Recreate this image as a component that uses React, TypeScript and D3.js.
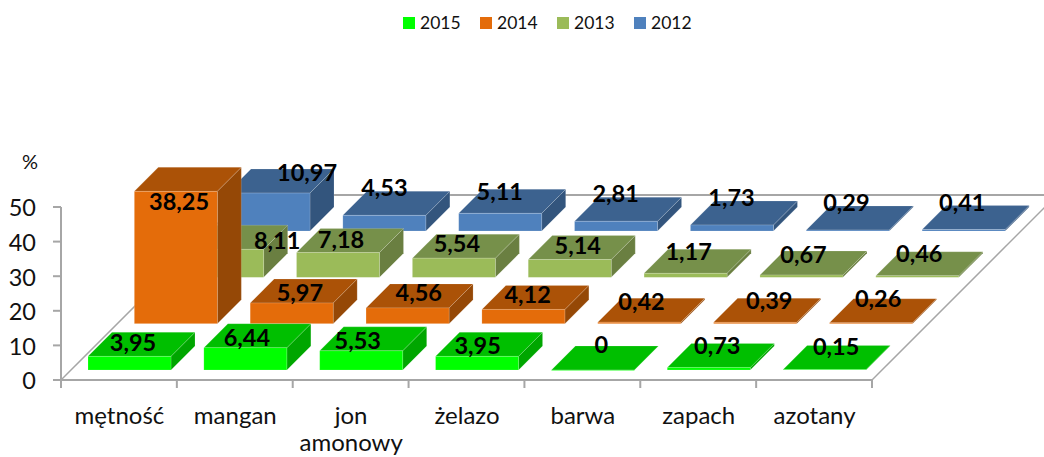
import React from 'react';
import * as d3 from 'd3';

const categories = ['mętność', 'mangan', 'jon amonowy', 'żelazo', 'barwa', 'zapach', 'azotany'];
const series = ['2015', '2014', '2013', '2012'];
const v2015 = [3.95, 6.44, 5.53, 3.95, 0, 0.73, 0.15];
const v2014 = [38.25, 5.97, 4.56, 4.12, 0.42, 0.39, 0.26];
const v2013 = [8.11, 7.18, 5.54, 5.14, 1.17, 0.67, 0.46];
const v2012 = [10.97, 4.53, 5.11, 2.81, 1.73, 0.29, 0.41];
const yTicks = [0, 10, 20, 30, 40, 50];

const allValues = [v2015, v2014, v2013, v2012];
const labelsText = (v: number) => String(v).replace('.', ',');

const palette = [
  { front: '#00FF00', top: '#00BF00', side: '#00A600' },
  { front: '#E46C0A', top: '#AB5207', side: '#954806' },
  { front: '#9BBB59', top: '#76904A', side: '#6A7F41' },
  { front: '#4F81BD', top: '#3C628F', side: '#33557D' },
];

// label nudges from the bar's front centre / base, as placed by the original 3-D renderer
const nudgeX = [
  [3.5, 1.5, -3.5, 0.5, 8.5, 8.5, 11.5],
  [3.2, 8.2, 11.2, 4.2, 2.2, 14.2, 7.2],
  [55, 3, 3, 8, 3, 2, 2],
  [38.6, 0, -0.4, -0.4, -0.4, -1.4, -1.4],
];
const nudgeY = [
  [-27, -32, -29, -24, -25, -24, -23],
  [-121.6, -30.6, -30.3, -28.3, -21.3, -22.3, -24.3],
  [-36, -36.7, -32.7, -30.7, -24.7, -21.7, -22.7],
  [-57.8, -42.5, -38.5, -36.5, -32.5, -27.5, -27.5],
];

const W = 1044, H = 457;
const axisCol = '#A6A6A6';
const font = 'Lato, sans-serif';
const textDrop = 1.5;

const xTick = d3.scaleLinear().domain([0, categories.length]).range([61, 872]);
const yVal = d3.scaleLinear().domain([0, 50]).range([380, 207]);
const seriesShift = d3.scaleLinear().domain([0, 3]).range([0, 139]); // x & y shift per depth row
const barW = 83;
const barDepth = 24;
const firstX = 88, firstBase = 370;
const backY = 195;

export default function App() {
  const unit = yVal(0) - yVal(1);
  const legendSq = [403, 480, 557, 634];
  return (
    <svg width={W} height={H} style={{ position: 'absolute', left: 0, top: 0, background: '#fff' }} fontFamily={font}>
      {/* floor and axes */}
      <line x1={61} y1={380} x2={61 + 185} y2={195} stroke={axisCol} strokeWidth={1.5} />
      <line x1={246} y1={backY} x2={1044} y2={backY} stroke={axisCol} strokeWidth={2} />
      <line x1={872} y1={380} x2={1057} y2={backY} stroke={axisCol} strokeWidth={1.5} />
      <line x1={61} y1={207} x2={61} y2={381} stroke={axisCol} strokeWidth={2} />
      <line x1={60} y1={380} x2={873} y2={380} stroke={axisCol} strokeWidth={2} />
      {yTicks.map(t => (
        <g key={t}>
          <line x1={53} y1={yVal(t)} x2={61} y2={yVal(t)} stroke={axisCol} strokeWidth={2} />
          <text x={36} y={yVal(t) + 2 + textDrop} textAnchor="end" dominantBaseline="middle" fontSize={23.5} fill="#111">{t}</text>
        </g>
      ))}
      {d3.range(categories.length + 1).map(i => (
        <line key={i} x1={xTick(i)} y1={380} x2={xTick(i)} y2={388} stroke={axisCol} strokeWidth={2} />
      ))}
      <text x={30} y={162 + textDrop} textAnchor="middle" dominantBaseline="middle" fontSize={20} fill="#111">%</text>

      {/* bars, back row first */}
      {[3, 2, 1, 0].map(s => (
        <g key={s}>
          {allValues[s].map((v, c) => {
            const x = firstX + seriesShift(s) + (xTick(c) - xTick(0));
            const base = firstBase - seriesShift(s);
            const top = base - v * unit;
            const p = palette[s];
            const d = barDepth;
            const edge = { stroke: '#fff', strokeOpacity: 0.2, strokeWidth: 0.75 };
            return (
              <g key={c}>
                <polygon points={`${x + barW},${top} ${x + barW + d},${top - d} ${x + barW + d},${base - d} ${x + barW},${base}`} fill={p.side} {...edge} />
                <polygon points={`${x},${top} ${x + d},${top - d} ${x + barW + d},${top - d} ${x + barW},${top}`} fill={p.top} {...edge} />
                <rect x={x} y={top} width={barW} height={Math.max(base - top, 0.5)} fill={p.front} {...edge} />
              </g>
            );
          })}
        </g>
      ))}

      {/* value labels */}
      {[3, 2, 1, 0].map(s => allValues[s].map((v, c) => {
        const cx = firstX + seriesShift(s) + (xTick(c) - xTick(0)) + barW / 2 + nudgeX[s][c];
        const cy = firstBase - seriesShift(s) + nudgeY[s][c] + textDrop;
        return (
          <text key={`${s}-${c}`} x={cx} y={cy} textAnchor="middle" dominantBaseline="middle" fontSize={23.5} fontWeight={700} fill="#000">
            {labelsText(v)}
          </text>
        );
      }))}

      {/* category labels */}
      {categories.map((c, i) => {
        const cx = (xTick(i) + xTick(i + 1)) / 2 + 0.5;
        const words = c === 'jon amonowy' ? c.split(' ') : [c];
        return words.map((w, j) => (
          <text key={w} x={cx} y={416 + textDrop + j * 27} textAnchor="middle" dominantBaseline="middle" fontSize={24} fill="#111">{w}</text>
        ));
      })}

      {/* legend */}
      {series.map((name, i) => (
        <g key={name}>
          <rect x={legendSq[i]} y={17} width={12} height={12} fill={palette[i].front} />
          <text x={legendSq[i] + 17} y={23.5 + 1} dominantBaseline="middle" fontSize={17.5} fill="#111">{name}</text>
        </g>
      ))}
    </svg>
  );
}
